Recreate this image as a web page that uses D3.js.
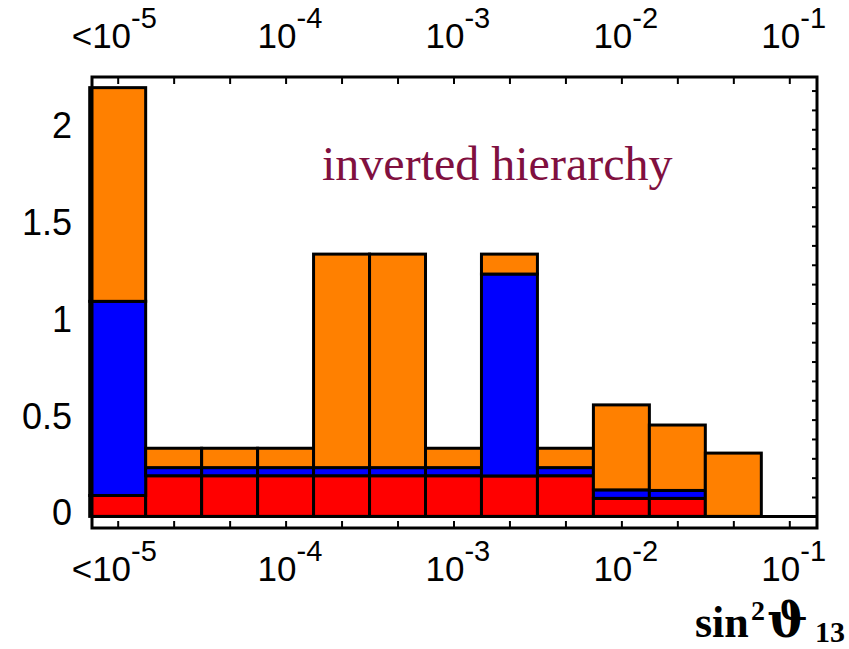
<!DOCTYPE html>
<html>
<head>
<meta charset="utf-8">
<script src="https://cdn.jsdelivr.net/npm/d3@7"></script>
<style>
  html, body { margin: 0; padding: 0; background: #fff; }
  svg { display: block; }
</style>
</head>
<body>
<script>
// Bin centres of the sin^2(theta13) histogram (three bins per decade)
const binCentres = [1e-5, 2.154e-5, 4.642e-5, 1e-4, 2.154e-4, 4.642e-4, 1e-3, 2.154e-3, 4.642e-3, 1e-2, 2.154e-2, 4.642e-2, 1e-1];

// Stacked contributions per bin (bottom to top)
const redValues    = [0.108, 0.21, 0.21, 0.21, 0.21, 0.21, 0.21, 0.209, 0.21, 0.093, 0.093, 0, 0];
const blueValues   = [1.003, 0.042, 0.042, 0.042, 0.042, 0.042, 0.042, 1.043, 0.042, 0.044, 0.041, 0, 0];
const orangeValues = [1.104, 0.10, 0.10, 0.10, 1.103, 1.103, 0.10, 0.103, 0.10, 0.439, 0.338, 0.327, 0];

const seriesKeys    = ["red", "blue", "orange"];
const seriesColours = { red: "#ff0000", blue: "#0000ff", orange: "#ff8000" };

// Axis labels
const yTickValues = [0, 0.5, 1, 1.5, 2];
const yTickLabels = ["0", "0.5", "1", "1.5", "2"];
const xLabelValues    = [1e-5, 1e-4, 1e-3, 1e-2, 1e-1];
const xLabelPrefixes  = ["<", "", "", "", ""];
const xLabelExponents = ["-5", "-4", "-3", "-2", "-1"];
const annotation = "inverted hierarchy";

const W = 849, H = 649;
const frameLeft = 92, frameRight = 817, frameTop = 77, frameBottom = 528;

const svg = d3.select("body").append("svg")
  .attr("width", W).attr("height", H)
  .attr("viewBox", `0 0 ${W} ${H}`);

const x = d3.scaleLog()
  .domain([Math.pow(10, -5.153), Math.pow(10, -0.835)])
  .range([frameLeft, frameRight]);

const y = d3.scaleLinear()
  .domain([-0.06, 2.27])
  .range([frameBottom, frameTop]);

// Half a bin in log space
const halfBin = Math.pow(10, 1 / 6);

const table = binCentres.map((c, i) => ({
  centre: c,
  red: redValues[i],
  blue: blueValues[i],
  orange: orangeValues[i]
}));
const stacked = d3.stack().keys(seriesKeys)(table);

// Frame ticks (inward pointing)
const minorY = d3.range(0, 2.21, 0.1);
function styleAxis(g) {
  g.select(".domain").remove();
  g.selectAll(".tick line").attr("stroke", "#000").attr("stroke-width", 2);
  g.selectAll(".tick text").remove();
}
svg.append("g").attr("transform", `translate(0,${frameBottom})`)
  .call(d3.axisTop(x).tickValues(binCentres).tickSize(7).tickFormat(""))
  .call(styleAxis);
svg.append("g").attr("transform", `translate(0,${frameTop})`)
  .call(d3.axisBottom(x).tickValues(binCentres).tickSize(7).tickFormat(""))
  .call(styleAxis);
svg.append("g").attr("transform", `translate(${frameLeft},0)`)
  .call(d3.axisRight(y).tickValues(minorY).tickSize(5).tickFormat(""))
  .call(styleAxis);
svg.append("g").attr("transform", `translate(${frameRight},0)`)
  .call(d3.axisLeft(y).tickValues(minorY).tickSize(5).tickFormat(""))
  .call(styleAxis);

// Stacked histogram bars
const layers = svg.append("g");
stacked.forEach(layer => {
  layers.append("g")
    .selectAll("rect")
    .data(layer.filter(d => d[1] - d[0] > 0))
    .join("rect")
    .attr("x", d => x(d.data.centre / halfBin))
    .attr("width", d => x(d.data.centre * halfBin) - x(d.data.centre / halfBin))
    .attr("y", d => y(d[1]))
    .attr("height", d => y(d[0]) - y(d[1]))
    .attr("fill", seriesColours[layer.key])
    .attr("stroke", "#000")
    .attr("stroke-width", 3);
});

// Zero line across the histogram
svg.append("line")
  .attr("x1", frameLeft).attr("x2", frameRight)
  .attr("y1", y(0)).attr("y2", y(0))
  .attr("stroke", "#000").attr("stroke-width", 3);

// Frame
svg.append("rect")
  .attr("x", frameLeft).attr("y", frameTop)
  .attr("width", frameRight - frameLeft).attr("height", frameBottom - frameTop)
  .attr("fill", "none").attr("stroke", "#000").attr("stroke-width", 3);

// Y tick labels
svg.append("g")
  .selectAll("text")
  .data(yTickValues)
  .join("text")
  .attr("x", 72)
  .attr("y", d => y(d) + 9)
  .attr("text-anchor", "end")
  .attr("font-family", "'Liberation Sans', Arial, sans-serif")
  .attr("font-size", 36)
  .attr("fill", "#000")
  .text((d, i) => yTickLabels[i]);

// X decade labels, top and bottom
function decadeLabels(baseY) {
  const g = svg.append("g")
    .attr("font-family", "'Liberation Sans', Arial, sans-serif")
    .attr("fill", "#000");
  xLabelValues.forEach((v, i) => {
    const t = g.append("text")
      .attr("x", x(v) - (xLabelPrefixes[i] ? 46 : 28))
      .attr("y", baseY)
      .attr("font-size", 35);
    if (xLabelPrefixes[i]) t.append("tspan").text(xLabelPrefixes[i]);
    t.append("tspan").text("10");
    t.append("tspan").attr("dy", -20).attr("font-size", 29).text(xLabelExponents[i]);
  });
}
decadeLabels(48);
decadeLabels(581);

// Annotation
svg.append("text")
  .attr("x", 322).attr("y", 180)
  .attr("font-family", "'Liberation Serif', 'Times New Roman', serif")
  .attr("font-size", 48)
  .attr("fill", "#80103f")
  .text(annotation);

// Axis title: sin^2 theta_13
const title = svg.append("g")
  .attr("font-family", "'DejaVu Serif', 'Liberation Serif', serif")
  .attr("font-weight", "bold")
  .attr("fill", "#000");
title.append("text").attr("x", 695).attr("y", 637).attr("font-size", 44)
  .attr("font-family", "'Liberation Serif', serif").text("sin");
title.append("text").attr("x", 751).attr("y", 620).attr("font-size", 28)
  .attr("font-family", "'Liberation Serif', serif").text("2");
title.append("text").attr("x", 767).attr("y", 637).attr("font-size", 48).text("\u03D1");
title.append("text").attr("x", 815).attr("y", 642).attr("font-size", 30)
  .attr("font-family", "'Liberation Serif', serif").text("13");
</script>
</body>
</html>
